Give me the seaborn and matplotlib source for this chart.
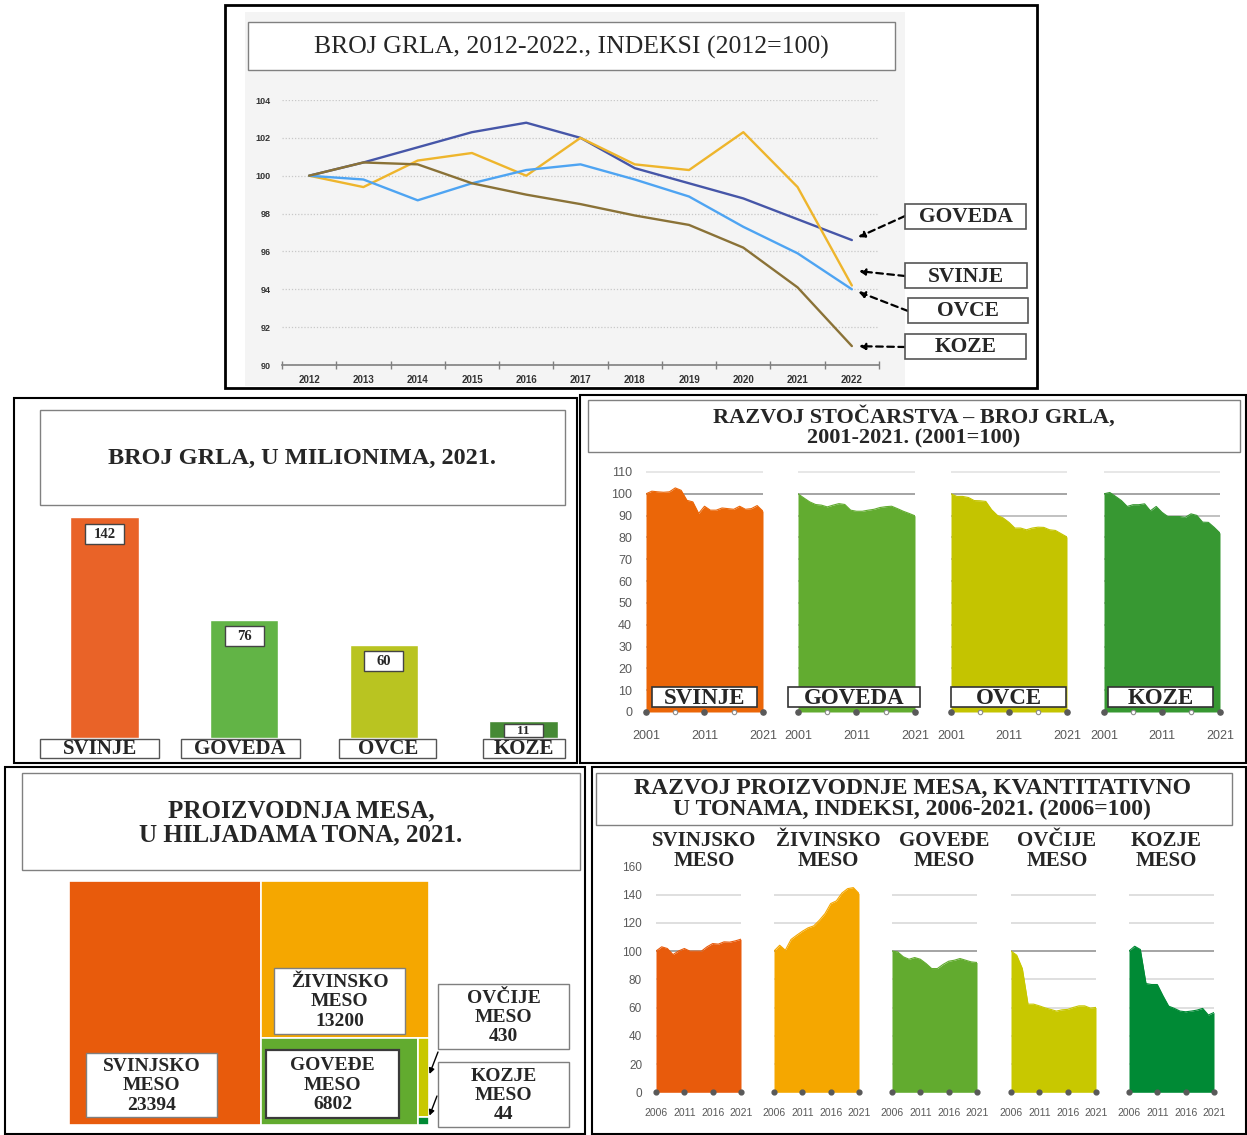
import numpy as np
import pandas as pd
import seaborn as sns
import matplotlib.pyplot as plt
from matplotlib.patches import Rectangle

# --- top: broj grla 2012-2022, index 2012=100
years_top = list(range(2012, 2023))
top_species = ['GOVEDA', 'SVINJE', 'OVCE', 'KOZE']
goveda_top = [100, 100.7, 101.5, 102.3, 102.8, 102.0, 100.4, 99.6, 98.8, 97.7, 96.6]
svinje_top = [100, 99.4, 100.8, 101.2, 100.0, 102.0, 100.6, 100.3, 102.3, 99.4, 94.2]
ovce_top = [100, 99.8, 98.7, 99.6, 100.3, 100.6, 99.8, 98.9, 97.3, 95.9, 94.0]
koze_top = [100, 100.7, 100.6, 99.6, 99.0, 98.5, 97.9, 97.4, 96.2, 94.1, 91.0]
top_colors = ['#4656a8', '#eeb52c', '#4ea4f2', '#8a7237']

# --- broj grla u milionima, 2021
bar_cats = ['SVINJE', 'GOVEDA', 'OVCE', 'KOZE']
bar_vals = [142, 76, 60, 11]
bar_colors = ['#e96328', '#62b446', '#b9c421', '#468a35']

# --- razvoj stocarstva 2001-2021 (2001=100)
years_01 = list(range(2001, 2022))
svinje_01 = [100, 101.2, 100.9, 100.7, 100.9, 102.7, 101.6, 97.0, 96.3, 91.0, 94.3,
             92.5, 92.5, 93.5, 93.2, 92.9, 94.3, 92.9, 93.2, 94.6, 92.0]
goveda_01 = [100, 98.1, 96.3, 95.1, 94.8, 94.0, 94.8, 95.5, 95.1, 92.5, 92.0,
             92.0, 92.5, 92.9, 93.7, 94.1, 94.3, 93.2, 92.0, 91.0, 89.9]
ovce_01 = [100, 98.8, 98.8, 98.3, 96.9, 96.8, 96.5, 92.7, 90.1, 88.9, 86.9,
           84.3, 84.3, 83.5, 84.3, 84.7, 84.6, 83.5, 83.2, 81.7, 80.2]
koze_01 = [100, 100.6, 98.8, 96.9, 94.2, 95.0, 95.0, 95.4, 92.2, 94.2, 91.5,
           89.6, 89.6, 89.6, 89.2, 90.8, 90.1, 87.0, 86.9, 84.6, 82.0]
colors_01 = ['#eb6608', '#62ac30', '#c4c400', '#379832']

# --- proizvodnja mesa 2021, hiljade tona
meat_names = ['SVINJSKO\nMESO', 'ŽIVINSKO\nMESO', 'GOVEĐE\nMESO', 'OVČIJE\nMESO', 'KOZJE\nMESO']
meat_tons = [23394, 13200, 6802, 430, 44]
meat_colors = ['#e85b0c', '#f5a700', '#62ab2f', '#c8c800', '#008a35']

# --- razvoj proizvodnje mesa 2006-2021 (2006=100)
years_06 = list(range(2006, 2022))
svinjsko_06 = [100, 103.0, 101.8, 97.5, 100.1, 101.8, 99.9, 99.9, 99.9, 103.0, 105.3, 104.9, 106.5, 106.3, 107.2, 108.4]
zivinsko_06 = [100, 104.1, 100.6, 108.2, 111.2, 114.0, 116.4, 117.8, 121.8, 126.5, 133.6, 135.5, 141.1, 144.2, 144.9, 140.7]
govedje_06 = [100, 99.4, 95.9, 94.2, 95.4, 94.2, 91.2, 87.6, 87.6, 90.5, 92.8, 93.5, 94.7, 93.5, 92.3, 91.9]
ovcije_06 = [100, 97.1, 87.6, 62.4, 62.4, 61.2, 59.8, 58.7, 57.5, 58.4, 58.7, 60.1, 61.2, 61.2, 59.6, 60.1]
kozje_06 = [100, 103.4, 101.1, 77.0, 76.3, 76.3, 68.3, 61.0, 59.4, 57.5, 57.0, 57.5, 58.2, 59.4, 54.7, 56.5]

W, H = 1247, 1135
sns.set_theme(style='white')
plt.rcParams['font.family'] = ['Liberation Serif', 'DejaVu Serif']
SERIF = 'Liberation Serif'
SANS = 'Liberation Sans'
GRAYTXT = '#595959'

fig = plt.figure(figsize=(W / 100, H / 100), dpi=100)


def canvas(z):
    a = fig.add_axes([0, 0, 1, 1])
    a.set_xlim(0, W)
    a.set_ylim(H, 0)
    a.axis('off')
    a.set_zorder(z)
    return a


bg = canvas(-5)
fg = canvas(20)


def place(x0, y0, x1, y1):
    a = fig.add_axes([x0 / W, 1 - y1 / H, (x1 - x0) / W, (y1 - y0) / H])
    a.patch.set_alpha(0)
    return a


def box(ax, x0, y0, x1, y1, ec='#808080', lw=1.0, fc='white', z=2):
    ax.add_patch(Rectangle((x0, y0), x1 - x0, y1 - y0, fc=fc, ec=ec, lw=lw, zorder=z))


def to_px(ax, x, y):
    dx, dy = ax.transData.transform((x, y))
    return dx, H - dy


def txt(x, y, s, size, weight='bold', **kw):
    fg.text(x, y, s, fontsize=size, fontweight=weight, ha='center', va='center',
            family=SERIF, zorder=5, **kw)


# ================= panel 1: line chart
box(bg, 225, 5, 1037, 388, ec='black', lw=2)
box(bg, 245, 12, 905, 386, ec='none', fc='#f4f4f4', z=3)
box(bg, 248, 22, 895, 70, z=4)
txt(571, 47, 'BROJ GRLA, 2012-2022., INDEKSI (2012=100)', 18.5, weight='normal')

top = pd.DataFrame({
    'year': years_top * 4,
    'value': goveda_top + svinje_top + ovce_top + koze_top,
    'species': [s for s in top_species for _ in years_top],
})
ax1 = place(282, 100, 879, 365)
sns.lineplot(data=top, x='year', y='value', hue='species', palette=top_colors,
             linewidth=1.7, legend=False, ax=ax1)
ax1.set_xlim(2011.5, 2022.5)
ax1.set_ylim(90, 104)
ax1.set_yticks(range(90, 105, 2))
ax1.set_xticks(np.arange(2011.5, 2023, 1))
ax1.set_xticklabels([])
ax1.set_xticks(years_top, minor=True)
ax1.set_xticklabels([str(y) for y in years_top], minor=True)
ax1.tick_params(axis='x', which='major', length=6, direction='inout', color='#7f7f7f', width=1, bottom=True)
ax1.tick_params(axis='x', which='minor', length=0, pad=7, labelsize=7, labelcolor='#333333')
ax1.tick_params(axis='y', length=0, pad=8, labelsize=6.5, labelcolor='#333333')
for lbl in ax1.get_xticklabels(minor=True) + ax1.get_yticklabels():
    lbl.set_family(SANS)
    lbl.set_fontweight('bold')
ax1.grid(axis='y', linestyle=(0, (1, 1.5)), color='#c8c8c8', lw=0.9)
ax1.grid(axis='x', visible=False)
for s in ['left', 'right', 'top']:
    ax1.spines[s].set_visible(False)
ax1.spines['bottom'].set_color('#7f7f7f')
ax1.spines['bottom'].set_linewidth(1.2)
ax1.set_xlabel('')
ax1.set_ylabel('')

top_last = [goveda_top[-1], svinje_top[-1], ovce_top[-1], koze_top[-1]]
top_boxes = [(905, 1026, 204, 229), (905, 1027, 263, 288), (908, 1028, 298, 323), (905, 1026, 334, 359)]
arrow_from = [(905, 216), (905, 276), (908, 311), (905, 347)]
tip_shift = [0.0, 0.8, 0.0, 0.0]
for name, last, (bx0, bx1, by0, by1), start, dy in zip(top_species, top_last, top_boxes, arrow_from, tip_shift):
    box(fg, bx0, by0, bx1, by1, ec='#555555', lw=1.2)
    txt((bx0 + bx1) / 2, (by0 + by1) / 2 + 1, name, 15.5)
    ax1.annotate('', xy=(years_top[-1], last + dy), xycoords='data', xytext=start, textcoords=fg.transData,
                 arrowprops=dict(arrowstyle='-|>', linestyle=(0, (3, 2)), color='black', lw=1.6,
                                 shrinkA=0, shrinkB=5, mutation_scale=9),
                 annotation_clip=False)

# ================= panel 2: bars
box(bg, 14, 398, 577, 763, ec='black', lw=1.5)
box(bg, 40, 410, 565, 505)
txt(302, 458, 'BROJ GRLA, U MILIONIMA, 2021.', 17.5)

ax2 = place(34.8, 505, 593.4, 738)
sns.barplot(x=bar_cats, y=bar_vals, hue=bar_cats, palette=bar_colors, width=0.49,
            saturation=1, legend=False, ax=ax2)
ax2.set_xlim(-0.5, 3.5)
ax2.set_ylim(0, (738 - 505) / 1.556)
ax2.axis('off')

cat_widths = [119, 119, 97, 82]
cat_shift = [-5, -4, 4, 0]
for i, (cat, v, cw, sh) in enumerate(zip(bar_cats, bar_vals, cat_widths, cat_shift)):
    cx, cy = to_px(ax2, i, v)
    off, bh = (16.5, 20) if v > 20 else (9.5, 13)
    box(fg, cx - 19.5, cy + off - bh / 2, cx + 19.5, cy + off + bh / 2, ec='#444444', lw=1)
    txt(cx, cy + off + 0.5, str(v), 10.5 if v > 20 else 9.5)
    bx, by = to_px(ax2, i, 0)
    bx += sh
    box(fg, bx - cw / 2, by + 1, bx + cw / 2, by + 20, ec='#555555', lw=1)
    txt(bx, by + 11, cat, 15)

# ================= panel 3: small multiples 2001-2021
box(bg, 580, 395, 1246, 763, ec='black', lw=1.5)
box(bg, 588, 400, 1240, 452)
txt(914, 427, 'RAZVOJ STOČARSTVA – BROJ GRLA,\n2001-2021. (2001=100)', 16, linespacing=1.1)

series_01 = [svinje_01, goveda_01, ovce_01, koze_01]
cols_px = [(646, 763), (798, 915), (951, 1067), (1104, 1220)]
lab_px = [(652, 757), (788, 920), (951, 1066), (1108, 1213)]
for k, (name, vals, c, (x0, x1), (lx0, lx1)) in enumerate(zip(bar_cats, series_01, colors_01, cols_px, lab_px)):
    ax = place(x0, 712 - 112 * 2.182, x1, 712)
    for g in range(10, 111, 10):
        gc = '#8c8c8c' if g == 100 else ('#e0e0e0' if g == 110 else '#b0b0b0')
        ax.axhline(g, color=gc, lw=1.1, zorder=0)
    ax.fill_between(years_01, vals, 0, color=c, lw=0, zorder=2)
    sns.lineplot(x=years_01, y=vals, color=c, lw=0.8, ax=ax, zorder=3)
    ax.set_xlim(2001, 2021)
    ax.set_ylim(0, 112)
    ax.scatter([2001, 2011, 2021], [0, 0, 0], s=14, color='#595959', zorder=5, clip_on=False)
    ax.scatter([2006, 2016], [0, 0], s=10, facecolor='white', edgecolor='#8c8c8c', lw=0.8, zorder=5, clip_on=False)
    ax.set_xticks([2001, 2011, 2021])
    ax.set_xticklabels(['2001', '2011', '2021'])
    ax.set_yticks(range(0, 111, 10))
    ax.tick_params(length=0, labelsize=9, labelcolor=GRAYTXT)
    ax.tick_params(axis='x', pad=13)
    ax.tick_params(axis='y', pad=10, labelleft=(k == 0))
    for lbl in ax.get_xticklabels() + ax.get_yticklabels():
        lbl.set_family(SANS)
    for s in ax.spines.values():
        s.set_visible(False)
    ax.grid(False)
    box(fg, lx0, 687, lx1, 707, ec='#333333', lw=1.2)
    txt((lx0 + lx1) / 2, 698, name, 16.5)

# ================= panel 4: treemap
box(bg, 5, 767, 585, 1134, ec='black', lw=1.5)
box(bg, 22, 773, 580, 870)
txt(301, 823, 'PROIZVODNJA MESA,\nU HILJADAMA TONA, 2021.', 18, linespacing=1.08)

ax4 = place(69, 881, 429, 1125)
aspect = 360 / 244
rx, ry, rw, rh = 0.0, 0.0, aspect, 1.0
left = float(sum(meat_tons))
rects = []
for i, v in enumerate(meat_tons):
    if i == len(meat_tons) - 1:
        rects.append((rx, ry, rw, rh))
    elif i % 2 == 0:
        w = v / left * rw
        rects.append((rx, ry, w, rh))
        rx, rw = rx + w, rw - w
    else:
        h = v / left * rh
        rects.append((rx, ry, rw, h))
        ry, rh = ry + h, rh - h
    left -= v
ax4.bar([r[0] for r in rects], [r[3] for r in rects], width=[r[2] for r in rects],
        bottom=[r[1] for r in rects], align='edge', color=meat_colors, edgecolor='white', lw=1.2)
ax4.set_xlim(0, aspect)
ax4.set_ylim(1, 0)
ax4.axis('off')

meat_boxes = [(86, 1053, 217, 1117), (274, 968, 405, 1034), (266, 1050, 399, 1118),
              (438, 984, 569, 1049), (438, 1062, 569, 1127)]
for k, (name, v, (bx0, by0, bx1, by1)) in enumerate(zip(meat_names, meat_tons, meat_boxes)):
    box(fg, bx0, by0, bx1, by1, ec='#3a3a3a' if k == 2 else '#7f7f7f', lw=1.6 if k == 2 else 1)
    txt((bx0 + bx1) / 2, (by0 + by1) / 2 + 1, f'{name}\n{v}', 14, linespacing=1.17)

ov, kz = rects[3], rects[4]
for start, tip in [((438, 1052), (ov[0] + ov[2], ov[1] + 0.47 * ov[3])), ((437, 1096), (kz[0] + kz[2], kz[1]))]:
    ax4.annotate('', xy=tip, xycoords='data', xytext=start, textcoords=fg.transData,
                 arrowprops=dict(arrowstyle='-|>', color='black', lw=1, shrinkA=0, shrinkB=1, mutation_scale=8),
                 annotation_clip=False)

# ================= panel 5: small multiples 2006-2021
box(bg, 592, 767, 1246, 1134, ec='black', lw=1.5)
box(bg, 596, 773, 1232, 825)
txt(912, 799, 'RAZVOJ PROIZVODNJE MESA, KVANTITATIVNO\nU TONAMA, INDEKSI, 2006-2021. (2006=100)', 17, linespacing=1.05)

series_06 = [svinjsko_06, zivinsko_06, govedje_06, ovcije_06, kozje_06]
cols5_px = [(656, 741), (774, 859), (892, 977), (1011, 1096), (1129, 1214)]
head_x = [704, 828, 944, 1057, 1166]
for k, (name, vals, c, (x0, x1), hx) in enumerate(zip(meat_names, series_06, meat_colors, cols5_px, head_x)):
    ax = place(x0, 1092.3 - 162 * 1.4125, x1, 1092.3)
    for g in range(20, 141, 20):
        ax.axhline(g, color='#8c8c8c' if g == 100 else '#d6d6d6', lw=1.1, zorder=0)
    ax.fill_between(years_06, vals, 0, color=c, lw=0, zorder=2)
    sns.lineplot(x=years_06, y=vals, color=c, lw=0.8, ax=ax, zorder=3)
    ax.set_xlim(2006, 2021)
    ax.set_ylim(0, 162)
    ax.scatter([2006, 2011, 2016, 2021], [0, 0, 0, 0], s=12, color='#595959', zorder=5, clip_on=False)
    ax.set_xticks([2006, 2011, 2016, 2021])
    ax.set_xticklabels(['2006', '2011', '2016', '2021'])
    ax.set_yticks(range(0, 161, 20))
    ax.tick_params(length=0, labelsize=7.5, labelcolor=GRAYTXT)
    ax.tick_params(axis='x', pad=11)
    ax.tick_params(axis='y', pad=10, labelleft=(k == 0), labelsize=8.5)
    for lbl in ax.get_xticklabels() + ax.get_yticklabels():
        lbl.set_family(SANS)
    for s in ax.spines.values():
        s.set_visible(False)
    ax.grid(False)
    txt(hx, 851, name, 15, linespacing=0.95)

fig.savefig('out.png', dpi=100)
